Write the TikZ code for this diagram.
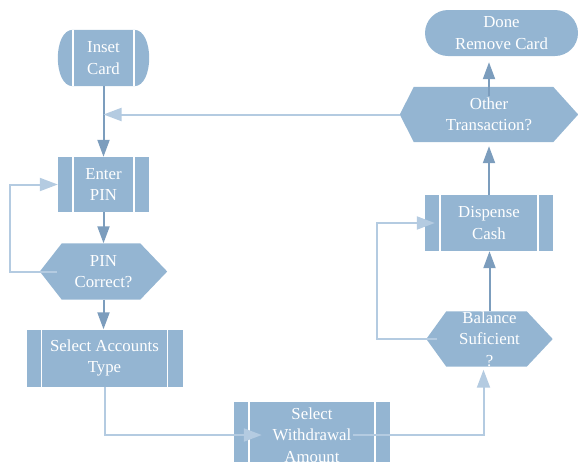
\documentclass[tikz,border=0pt]{standalone}
\usepackage{fontspec}
\setmainfont{Liberation Serif}
\usetikzlibrary{arrows.meta,calc}
\pgfdeclarelayer{background}
\pgfsetlayers{background,main}
\definecolor{boxfill}{RGB}{148,181,210}
\definecolor{flowdark}{RGB}{124,157,189}
\definecolor{flowlight}{RGB}{180,203,225}

% hexagonal decision outline around a node: #2 = left point depth, #3 = right point depth
\newcommand{\hexfill}[3]{%
  \fill[boxfill] (#1.west) -- ([xshift=#2pt]#1.north west) -- ([xshift=-#3pt]#1.north east)
    -- (#1.east) -- ([xshift=-#3pt]#1.south east) -- ([xshift=#2pt]#1.south west) -- cycle;}

\begin{document}
\begin{tikzpicture}[x=1pt,y=-1pt,
  font=\fontsize{16.8}{21.5}\selectfont,
  label/.style={inner sep=0pt, text=white, align=center},
  predef/.style={label, fill=boxfill,
    path picture={\draw[white, line width=1.8pt]
      ([xshift=15pt]path picture bounding box.north west) -- ([xshift=15pt]path picture bounding box.south west)
      ([xshift=-15pt]path picture bounding box.north east) -- ([xshift=-15pt]path picture bounding box.south east);}},
  darkflow/.style={draw=flowdark, line width=2pt, -{Triangle[length=17pt,width=12pt]}},
  lightflow/.style={draw=flowlight, line width=2pt, -{Triangle[length=18pt,width=13pt]}}]
\useasboundingbox (0,0) rectangle (578,461);
\clip (0,0) rectangle (578,461);

% start terminal (inner part; rounded ends added on the background)
\node[label, minimum width=61pt, minimum height=56pt] (ins) at (103.5,58) {Inset\\Card};
\node[predef, minimum width=91pt, minimum height=55pt] (enter) at (103.5,184.5) {Enter\\PIN};
\node[label, minimum width=127pt, minimum height=56pt] (pinq) at (103.5,271.5) {PIN\\Correct?};
\node[predef, minimum width=156pt, minimum height=57pt] (acct) at (104.5,358) {Select Accounts\\Type};
\node[predef, minimum width=156pt, minimum height=66pt] (wd) at (312,435) {Select\\Withdrawal\\Amount};
\node[label, minimum width=126pt, minimum height=55pt] (bal) at (489.5,339) {Balance\\Suficient\\?};
\node[predef, minimum width=128pt, minimum height=56pt] (disp) at (489,223) {Dispense\\Cash};
\node[label, minimum width=178pt, minimum height=55pt] (oth) at (489,114.5) {Other\\Transaction?};
\node[label, fill=boxfill, rounded corners=23pt, minimum width=153pt, minimum height=46pt] (done) at (501.5,33) {Done\\Remove Card};

\begin{pgfonlayer}{background}
  \fill[boxfill] (ins.north west) -- (ins.north east)
    .. controls +(20,0) and +(20,0) .. (ins.south east) -- (ins.south west)
    .. controls +(-20,0) and +(-20,0) .. (ins.north west) -- cycle;
  \hexfill{pinq}{22}{27}
  \hexfill{bal}{20}{26}
  \hexfill{oth}{14}{25}
\end{pgfonlayer}
\draw[white, line width=1.8pt] (ins.north west) -- (ins.south west) (ins.north east) -- (ins.south east);

% named ends of the connectors
\coordinate (wdin) at ([xshift=28pt]wd.west);
\coordinate (wdout) at ([xshift=41pt]wd.center);
\coordinate (balin) at ($(bal.south)+(-6,3)$);
\coordinate (dispin) at ([xshift=10pt]disp.west);
\coordinate (othin) at ($(oth.south)+(0,4)$);
\coordinate (othtop) at ($(oth.center)+(0,-19)$);
\coordinate (donein) at ($(othtop |- done.south)+(0,6)$);

% main flow
\draw[darkflow] (ins.south) -- (enter.north);
\draw[darkflow] (enter.south) -- (pinq.north);
\draw[darkflow] (pinq.south) -- (pinq.south |- acct.north);
\draw[lightflow] (acct.south) |- (wdin);
\draw[lightflow] (wdout) -| (balin);
\draw[darkflow] (bal.north) -- (bal.north |- disp.south);
\draw[darkflow] (disp.north) -- (othin);
\draw[darkflow] (othtop) -- (donein);

% loops back
\draw[lightflow] ([xshift=17pt]pinq.west) -- ++(-47,0) |- (enter.west);
\draw[lightflow] ([xshift=11pt]bal.west) -- ++(-60,0) |- (dispin);
\draw[lightflow] (oth.west) -- (oth.west -| ins.south);
\end{tikzpicture}
\end{document}
